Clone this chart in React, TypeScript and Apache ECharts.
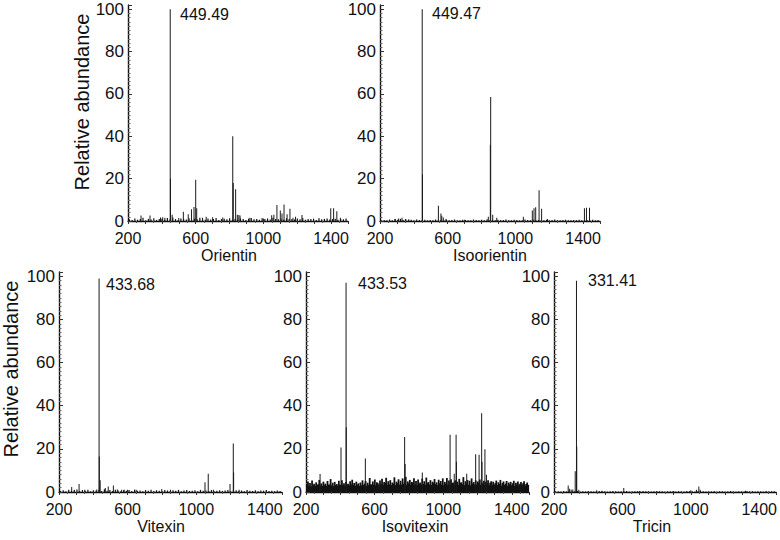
import React, { useEffect, useRef } from "react";
import * as echarts from "echarts";

// ---------- data ----------
const panelNames = ["Orientin", "Isoorientin", "Vitexin", "Isovitexin", "Tricin"];
const peakLabels = ["449.49", "449.47", "433.68", "433.53", "331.41"];
const xTickLabels = [200, 600, 1000, 1400];
const yTickLabels = [0, 20, 40, 60, 80, 100];
const yAxisTitle = "Relative abundance";

const orientinPeaks: [number, number][] = [
  [277, 2.6], [330, 2.6], [392, 1.6], [405, 1.8], [418, 1.5], [449.49, 100], [451, 20], [461, 3],
  [500, 1.4], [527, 4.4], [556, 3.2], [575, 5.5], [590, 6.6], [600, 19.5], [606, 6], [640, 1.5],
  [662, 2], [700, 1.8], [760, 1.6], [819, 40], [822, 18], [836, 15], [846, 3], [855, 2.8], [862, 2.6],
  [920, 1.5], [1000, 1.2], [1049, 2.7], [1062, 3], [1080, 7.6], [1100, 5], [1110, 3.6], [1122, 7.8],
  [1140, 3.2], [1157, 5.8], [1175, 1.5], [1190, 2], [1228, 2.8], [1398, 6], [1415, 6], [1434, 4.6], [1455, 1.5]
];
const isoorientinPeaks: [number, number][] = [
  [290, 1], [310, 1.2], [330, 1.5], [350, 1], [370, 0.8], [449.47, 100], [451, 22], [545, 7.2],
  [560, 3.5], [565, 2.5], [574, 1.6], [590, 1], [700, 0.6], [840, 2], [852, 36], [854, 58.5], [866, 3],
  [890, 1.5], [1047, 2], [1100, 5], [1110, 6], [1120, 6.5], [1140, 14.5], [1155, 5.8], [1190, 1],
  [1408, 6], [1420, 6.2], [1438, 6.2]
];
const vitexinPeaks: [number, number][] = [
  [274, 2.3], [290, 1], [317, 3.7], [350, 1], [420, 1.2], [433.68, 99], [435, 16.5], [440, 5.5],
  [470, 1.8], [487, 2.6], [517, 3], [540, 1.2], [565, 1], [580, 1], [600, 1], [650, 1.1], [799, 1.4],
  [850, 1], [1051, 4.5], [1070, 8.5], [1100, 1], [1197, 3.7], [1216, 22.5], [1218, 9], [1250, 1]
];
const isovitexinPeaks: [number, number][] = [
  [282, 8.3], [404, 20.6], [433.53, 97], [435, 30], [546, 15.5], [775, 25.5], [778, 13], [878, 9],
  [1040, 26.5], [1064, 8.5], [1075, 26.5], [1077, 14], [1137, 8.5], [1189, 17.5], [1209, 17.3],
  [1224, 36.5], [1226, 14], [1243, 19.8], [1252, 8]
];
const tricinPeaks: [number, number][] = [
  [283, 3], [290, 1.5], [300, 1.2], [310, 1.2], [324, 9.6], [331.41, 98], [333, 21], [345, 1],
  [450, 0.8], [480, 0.6], [608, 1.8], [700, 0.5], [900, 0.5], [1000, 0.8], [1033, 1], [1047, 2.6],
  [1055, 1], [1320, 0.6]
];

// baseline noise: heights read along the m/z axis
const noiseStart = 208;
const noiseStep = 16;
const orientinNoise = [
  0.8, 0.5, 1.2, 0.6, 0.9, 1.5, 0.4, 1.0, 0.7, 1.3, 0.5, 0.9, 1.1, 0.6, 1.4, 0.8, 1.6, 0.9, 0.5, 1.2,
  1.0, 0.7, 1.3, 0.6, 1.1, 0.8, 1.5, 0.9, 0.6, 1.2, 0.7, 1.0, 1.4, 0.5, 0.9, 1.1, 0.8, 1.3, 0.6, 1.0,
  0.7, 1.2, 0.9, 0.5, 1.1, 1.4, 0.8, 1.0, 0.6, 1.3, 0.9, 1.2, 0.7, 1.5, 1.0, 0.8, 1.1, 0.6, 1.3, 0.9,
  1.0, 0.7, 1.2, 0.8, 1.4, 0.6, 1.0, 0.9, 1.1, 0.5, 1.3, 0.8, 1.0, 1.2, 0.7, 0.9, 1.1, 0.6, 1.0, 0.8, 1.2
];
const isoorientinNoise = [
  0.3, 0.5, 0.4, 0.7, 0.3, 0.9, 0.6, 1.0, 0.5, 0.8, 0.4, 0.6, 0.3, 0.7, 0.5, 0.4, 0.6, 0.3, 0.5, 0.4,
  0.7, 0.3, 0.5, 0.4, 0.6, 0.3, 0.5, 0.7, 0.4, 0.3, 0.6, 0.5, 0.4, 0.3, 0.7, 0.5, 0.4, 0.6, 0.3, 0.8,
  0.4, 0.5, 0.3, 0.6, 0.4, 0.5, 0.7, 0.3, 0.4, 0.6, 0.5, 0.3, 0.4, 0.7, 0.5, 0.3, 0.6, 0.4, 0.5, 0.3,
  0.4, 0.6, 0.3, 0.5, 0.7, 0.4, 0.3, 0.5, 0.6, 0.4, 0.3, 0.5, 0.4, 0.6, 0.3, 0.5, 0.4, 0.3, 0.6, 0.4, 0.5
];
const vitexinNoise = [
  0.5, 0.8, 0.4, 1.0, 0.6, 0.7, 1.2, 0.5, 0.9, 0.6, 1.1, 0.4, 0.8, 0.7, 1.0, 0.5, 1.3, 0.6, 0.9, 0.5,
  1.0, 0.7, 0.4, 0.8, 0.6, 0.9, 0.5, 1.1, 0.6, 0.7, 0.4, 0.9, 0.6, 1.0, 0.5, 0.8, 0.6, 0.4, 0.9, 0.7,
  0.5, 0.8, 0.6, 1.0, 0.4, 0.7, 0.9, 0.5, 0.6, 0.8, 0.4, 1.0, 0.6, 0.7, 0.5, 0.9, 0.4, 0.6, 0.8, 0.5,
  0.7, 0.9, 0.4, 0.6, 0.8, 0.5, 0.7, 0.4, 0.9, 0.6, 0.5, 0.8, 0.4, 0.7, 0.6, 0.9, 0.5, 0.6, 0.4, 0.7, 0.5
];
const tricinNoise = [
  0.3, 0.4, 0.2, 0.5, 0.3, 0.6, 0.4, 0.3, 0.5, 0.2, 0.4, 0.3, 0.5, 0.4, 0.2, 0.3, 0.5, 0.4, 0.3, 0.2,
  0.4, 0.5, 0.3, 0.2, 0.4, 0.3, 0.5, 0.2, 0.4, 0.3, 0.4, 0.2, 0.5, 0.3, 0.4, 0.2, 0.3, 0.5, 0.4, 0.3,
  0.2, 0.4, 0.3, 0.5, 0.2, 0.4, 0.3, 0.2, 0.5, 0.4, 0.3, 0.2, 0.4, 0.5, 0.3, 0.2, 0.4, 0.3, 0.5, 0.2,
  0.4, 0.3, 0.2, 0.4, 0.5, 0.3, 0.2, 0.4, 0.3, 0.2, 0.5, 0.3, 0.4, 0.2, 0.3, 0.4, 0.2, 0.5, 0.3, 0.4, 0.3
];
// Isovitexin has a heavy, dense noise floor
const isovitexinNoiseStart = 203;
const isovitexinNoiseStep = 6;
const isovitexinNoise = [
  3.6, 4.9, 2.9, 4.2, 2.6, 5.3, 3.1, 3.8, 2.7, 4.5, 3.3, 3.6, 5.6, 3.0, 4.0, 2.8, 4.8, 3.3,
  3.9, 2.8, 5.1, 3.4, 3.5, 6.0, 3.1, 4.3, 2.7, 4.7, 3.2, 3.7, 2.9, 5.2, 3.4, 3.2, 5.5, 3.1,
  4.1, 2.9, 4.6, 3.4, 3.8, 3.0, 5.0, 3.5, 5.7, 3.3, 4.2, 2.8, 4.8, 3.3, 4.0, 2.8, 4.4, 3.1,
  5.4, 3.2, 3.9, 5.1, 2.9, 4.3, 3.2, 6.5, 3.6, 3.4, 4.9, 3.4, 5.8, 3.1, 4.5, 4.0, 3.1, 5.3,
  3.7, 6.1, 3.3, 4.6, 4.2, 6.6, 3.3, 5.0, 3.5, 5.5, 3.2, 4.4, 3.9, 6.8, 3.2, 4.8, 4.1, 5.9,
  3.4, 5.2, 3.4, 6.3, 3.8, 4.5, 7.0, 3.3, 4.9, 4.0, 5.6, 3.5, 4.7, 4.3, 6.4, 3.5, 5.1, 3.2,
  5.8, 3.9, 4.4, 3.4, 6.2, 3.7, 5.0, 3.3, 6.7, 4.1, 4.6, 3.4, 5.5, 3.3, 4.8, 4.2, 6.0, 3.6,
  4.5, 3.2, 5.7, 4.0, 5.1, 3.5, 6.3, 3.1, 4.7, 3.8, 6.5, 3.4, 5.3, 3.4, 5.9, 4.2, 4.4, 3.3,
  5.4, 3.7, 4.8, 3.3, 6.1, 4.3, 4.5, 3.6, 6.9, 3.2, 5.0, 3.9, 5.6, 3.4, 5.2, 3.1, 6.3, 4.0,
  4.6, 3.5, 5.4, 3.4, 4.9, 4.2, 5.8, 3.3, 4.4, 3.7, 5.2, 3.2, 4.7, 4.0, 5.5, 3.1, 4.3, 5.0,
  3.4, 4.8, 3.3, 4.1, 5.3, 3.2, 4.5, 3.7, 5.6, 3.0, 4.2, 4.9, 3.3, 3.9, 5.1, 2.9, 4.4, 3.6,
  4.7, 3.1, 4.0, 5.2, 2.8, 4.3, 3.5, 4.9, 3.0, 3.8, 4.6, 3.2, 4.1, 5.0, 2.9, 3.7, 4.4, 3.3
];

const peakSets = [orientinPeaks, isoorientinPeaks, vitexinPeaks, isovitexinPeaks, tricinPeaks];
const noiseSets = [orientinNoise, isoorientinNoise, vitexinNoise, isovitexinNoise, tricinNoise];
const noiseStarts = [noiseStart, noiseStart, noiseStart, isovitexinNoiseStart, noiseStart];
const noiseSteps = [noiseStep, noiseStep, noiseStep, isovitexinNoiseStep, noiseStep];

// ---------- layout ----------
const grids = [
  { left: 128, top: 5, width: 220, height: 216 },
  { left: 380, top: 5, width: 220, height: 216 },
  { left: 59, top: 272, width: 223, height: 220 },
  { left: 306, top: 272, width: 223, height: 220 },
  { left: 554, top: 272, width: 223, height: 220 },
];
const noiseWidths = [1.2, 1.2, 1.2, 1.8, 1.2];
const namePos = [[229, 255], [490, 255], [161, 526], [415, 526], [652, 526]];
const peakLabelPos = [[180, 14], [432, 13], [106, 284], [358, 283], [588, 280]];
const yTitlePos = [[82, 102], [11, 369]];

const FONT = "'Liberation Sans', Arial, Helvetica, sans-serif";
const INK = "#111";

export default function App() {
  const ref = useRef<HTMLDivElement>(null);
  useEffect(() => {
    if (!ref.current) return;
    const chart = echarts.init(ref.current, undefined, { renderer: "svg" });

    const xAxis = grids.map((_, i) => ({
      type: "value",
      gridIndex: i,
      min: 200,
      max: 1500,
      interval: 100,
      axisLine: { lineStyle: { color: "#111", width: 1.4 } },
      axisTick: { show: true, length: 3, lineStyle: { color: "#333" } },
      minorTick: { show: true, splitNumber: 2, length: 2, lineStyle: { color: "#555" } },
      splitLine: { show: false },
      axisLabel: {
        fontSize: 16,
        lineHeight: 16,
        color: INK,
        fontFamily: FONT,
        margin: 9,
        formatter: (v: number) => (xTickLabels.includes(v) ? String(v) : ""),
      },
    }));
    const yAxis = grids.map((_, i) => ({
      type: "value",
      gridIndex: i,
      min: 0,
      max: 102,
      interval: 20,
      axisLine: { show: true, lineStyle: { color: "#111", width: 1.4 } },
      axisTick: { show: true, inside: true, length: 4, lineStyle: { color: "#333" } },
      minorTick: { show: true, splitNumber: 10, length: 2.5, lineStyle: { color: "#666" } },
      splitLine: { show: false },
      axisLabel: {
        fontSize: 17,
        lineHeight: 14,
        color: INK,
        fontFamily: FONT,
        margin: 4,
        formatter: (v: number) => (yTickLabels.includes(v) ? String(v) : ""),
      },
    }));

    const series: any[] = [];
    grids.forEach((_, i) => {
      const noise = noiseSets[i]
        .map((h, k) => [noiseStarts[i] + k * noiseSteps[i], h])
        .filter((p) => p[0] <= 1498);
      series.push({
        type: "bar",
        xAxisIndex: i,
        yAxisIndex: i,
        barWidth: noiseWidths[i],
        barGap: "-100%",
        itemStyle: { color: "#111" },
        data: noise,
        silent: true,
      });
      series.push({
        type: "bar",
        xAxisIndex: i,
        yAxisIndex: i,
        barWidth: 1,
        barGap: "-100%",
        itemStyle: { color: "#1a1a1a" },
        data: peakSets[i],
        silent: true,
      });
    });

    const graphic: any[] = [];
    panelNames.forEach((name, i) => {
      graphic.push({
        type: "text",
        x: namePos[i][0],
        y: namePos[i][1],
        style: { text: name, fontSize: 16, fontFamily: FONT, fill: INK, align: "center", verticalAlign: "middle" },
      });
      graphic.push({
        type: "text",
        x: peakLabelPos[i][0],
        y: peakLabelPos[i][1],
        style: { text: peakLabels[i], fontSize: 16, fontFamily: FONT, fill: INK, align: "left", verticalAlign: "middle" },
      });
    });
    yTitlePos.forEach((p) => {
      graphic.push({
        type: "text",
        x: p[0],
        y: p[1],
        rotation: Math.PI / 2,
        style: { text: yAxisTitle, fontSize: 20, fontFamily: FONT, fill: INK, align: "center", verticalAlign: "middle" },
      });
    });

    chart.setOption({
      animation: false,
      backgroundColor: "#fff",
      grid: grids.map((g) => ({ ...g, containLabel: false })),
      xAxis,
      yAxis,
      series,
      graphic,
    });
    return () => chart.dispose();
  }, []);

  return (
    <div
      ref={ref}
      style={{ position: "fixed", left: 0, top: 0, width: 780, height: 540, background: "#fff" }}
    />
  );
}
